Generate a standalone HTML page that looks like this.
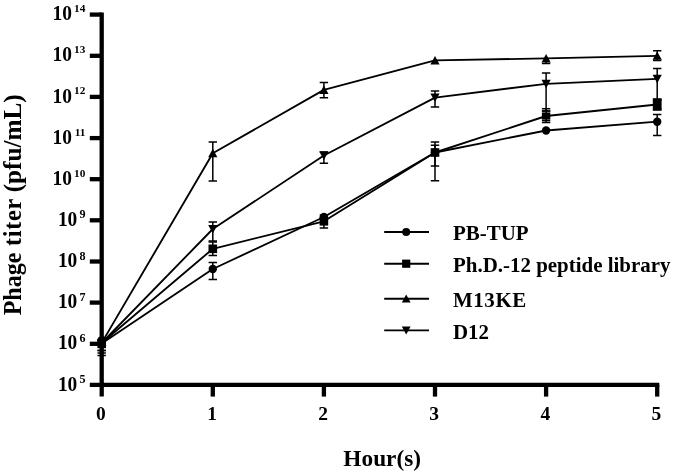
<!DOCTYPE html><html><head><meta charset="utf-8"><title>Phage titer</title><style>html,body{margin:0;padding:0;background:#fff}</style></head><body><svg width="675" height="475" viewBox="0 0 675 475" style="display:block">
<rect width="675" height="475" fill="#fff"/>
<g font-family="'Liberation Serif', 'Times New Roman', serif" font-weight="bold" fill="#000">
<g stroke="#000" stroke-width="4.3" fill="none" stroke-linecap="butt">
<path d="M101.7 12.4 V396.6"/>
<path d="M89.8 384.9 H659.3"/>
<path d="M89.8 343.8 H101.7"/>
<path d="M89.8 302.6 H101.7"/>
<path d="M89.8 261.5 H101.7"/>
<path d="M89.8 220.3 H101.7"/>
<path d="M89.8 179.2 H101.7"/>
<path d="M89.8 138.1 H101.7"/>
<path d="M89.8 96.9 H101.7"/>
<path d="M89.8 55.8 H101.7"/>
<path d="M89.8 14.6 H101.7"/>
<path d="M212.8 384.9 V396.6"/>
<path d="M323.9 384.9 V396.6"/>
<path d="M435.0 384.9 V396.6"/>
<path d="M546.1 384.9 V396.6"/>
<path d="M657.2 384.9 V396.6"/>
</g>
<text x="57.9" y="390.5" font-size="21" textLength="19.4" lengthAdjust="spacingAndGlyphs">10</text><text x="85.6" y="382.9" font-size="12.1" text-anchor="end">5</text>
<text x="57.9" y="349.4" font-size="21" textLength="19.4" lengthAdjust="spacingAndGlyphs">10</text><text x="85.6" y="341.8" font-size="12.1" text-anchor="end">6</text>
<text x="57.9" y="308.2" font-size="21" textLength="19.4" lengthAdjust="spacingAndGlyphs">10</text><text x="85.6" y="300.6" font-size="12.1" text-anchor="end">7</text>
<text x="57.9" y="267.1" font-size="21" textLength="19.4" lengthAdjust="spacingAndGlyphs">10</text><text x="85.6" y="259.5" font-size="12.1" text-anchor="end">8</text>
<text x="57.9" y="225.9" font-size="21" textLength="19.4" lengthAdjust="spacingAndGlyphs">10</text><text x="85.6" y="218.3" font-size="12.1" text-anchor="end">9</text>
<text x="52.6" y="184.8" font-size="21" textLength="19.4" lengthAdjust="spacingAndGlyphs">10</text><text x="85.4" y="176.6" font-size="11.3" text-anchor="end">10</text>
<text x="52.6" y="143.7" font-size="21" textLength="19.4" lengthAdjust="spacingAndGlyphs">10</text><text x="85.4" y="135.5" font-size="11.3" text-anchor="end">11</text>
<text x="52.6" y="102.5" font-size="21" textLength="19.4" lengthAdjust="spacingAndGlyphs">10</text><text x="85.4" y="94.3" font-size="11.3" text-anchor="end">12</text>
<text x="52.6" y="61.4" font-size="21" textLength="19.4" lengthAdjust="spacingAndGlyphs">10</text><text x="85.4" y="53.2" font-size="11.3" text-anchor="end">13</text>
<text x="52.6" y="20.2" font-size="21" textLength="19.4" lengthAdjust="spacingAndGlyphs">10</text><text x="85.4" y="12.0" font-size="11.3" text-anchor="end">14</text>
<text x="100.9" y="420.1" font-size="19.5" text-anchor="middle">0</text>
<text x="212.0" y="420.1" font-size="19.5" text-anchor="middle">1</text>
<text x="323.1" y="420.1" font-size="19.5" text-anchor="middle">2</text>
<text x="434.2" y="420.1" font-size="19.5" text-anchor="middle">3</text>
<text x="545.3" y="420.1" font-size="19.5" text-anchor="middle">4</text>
<text x="656.4" y="420.1" font-size="19.5" text-anchor="middle">5</text>
<text x="382.2" y="465.5" font-size="23.3" text-anchor="middle">Hour(s)</text>
<text transform="translate(20.5,315.3) rotate(-90)" font-size="24.3" textLength="62.7" lengthAdjust="spacingAndGlyphs">Phage</text>
<text transform="translate(20.5,246.1) rotate(-90)" font-size="24.3" textLength="47.4" lengthAdjust="spacing">titer</text>
<text transform="translate(20.5,192.3) rotate(-90)" font-size="24.3" textLength="97.9" lengthAdjust="spacingAndGlyphs">(pfu/mL)</text>
<polyline points="101.7,343.4 212.8,269.0 323.9,217.0 435.0,152.5 546.1,130.5 657.2,121.7" fill="none" stroke="#000" stroke-width="1.85" stroke-linejoin="round"/>
<path d="M101.7 340.0 V350.6 M97.5 340.0 H105.9 M97.5 350.6 H105.9" stroke="#000" stroke-width="1.5" fill="none"/>
<circle cx="101.7" cy="340.3" r="4.20"/>
<path d="M212.8 262.6 V279.5 M208.6 262.6 H217.0 M208.6 279.5 H217.0" stroke="#000" stroke-width="1.5" fill="none"/>
<circle cx="212.8" cy="269.0" r="4.20"/>
<path d="M323.9 215.0 V219.0 M319.7 215.0 H328.1 M319.7 219.0 H328.1" stroke="#000" stroke-width="1.5" fill="none"/>
<circle cx="323.9" cy="217.0" r="4.20"/>
<path d="M435.0 145.3 V165.9 M430.8 145.3 H439.2 M430.8 165.9 H439.2" stroke="#000" stroke-width="1.5" fill="none"/>
<circle cx="435.0" cy="152.5" r="4.20"/>
<circle cx="546.1" cy="130.5" r="4.20"/>
<path d="M657.2 114.6 V135.5 M653.0 114.6 H661.4 M653.0 135.5 H661.4" stroke="#000" stroke-width="1.5" fill="none"/>
<circle cx="657.2" cy="121.7" r="4.20"/>
<polyline points="101.7,343.0 212.8,248.8 323.9,221.3 435.0,152.5 546.1,116.0 657.2,104.5" fill="none" stroke="#000" stroke-width="1.85" stroke-linejoin="round"/>
<path d="M101.7 340.0 V353.0 M97.5 340.0 H105.9 M97.5 353.0 H105.9" stroke="#000" stroke-width="1.5" fill="none"/>
<rect x="97.4" y="339.6" width="8.6" height="8.6"/>
<path d="M212.8 242.0 V255.5 M208.6 242.0 H217.0 M208.6 255.5 H217.0" stroke="#000" stroke-width="1.5" fill="none"/>
<rect x="208.5" y="244.5" width="8.6" height="8.6"/>
<path d="M323.9 217.0 V228.0 M319.7 217.0 H328.1 M319.7 228.0 H328.1" stroke="#000" stroke-width="1.5" fill="none"/>
<rect x="319.6" y="217.0" width="8.6" height="8.6"/>
<path d="M435.0 142.0 V180.7 M430.8 142.0 H439.2 M430.8 180.7 H439.2" stroke="#000" stroke-width="1.5" fill="none"/>
<rect x="430.7" y="148.2" width="8.6" height="8.6"/>
<path d="M546.1 108.7 V122.6 M541.9 108.7 H550.3 M541.9 110.9 H550.3 M541.9 120.5 H550.3 M541.9 122.6 H550.3" stroke="#000" stroke-width="1.5" fill="none"/>
<rect x="541.9" y="112.4" width="8.4" height="7.2"/>
<path d="M657.2 100.0 V109.0 M653.0 100.0 H661.4 M653.0 109.0 H661.4" stroke="#000" stroke-width="1.5" fill="none"/>
<rect x="652.8" y="98.2" width="8.8" height="12.6"/>
<polyline points="101.7,342.9 212.8,153.2 323.9,89.9 435.0,60.4 546.1,58.4 657.2,55.8" fill="none" stroke="#000" stroke-width="1.85" stroke-linejoin="round"/>
<path d="M101.7 340.0 V355.4 M97.5 340.0 H105.9 M97.5 355.4 H105.9" stroke="#000" stroke-width="1.5" fill="none"/>
<polygon points="97.1,345.5 106.3,345.5 101.7,337.1"/>
<path d="M212.8 142.0 V181.0 M208.6 142.0 H217.0 M208.6 181.0 H217.0" stroke="#000" stroke-width="1.5" fill="none"/>
<polygon points="208.2,157.2 217.4,157.2 212.8,148.8"/>
<path d="M323.9 82.5 V97.8 M319.7 82.5 H328.1 M319.7 97.8 H328.1" stroke="#000" stroke-width="1.5" fill="none"/>
<polygon points="319.3,93.9 328.5,93.9 323.9,85.5"/>
<polygon points="430.4,64.4 439.6,64.4 435.0,56.0"/>
<path d="M546.1 58.4 V63.4 M541.9 63.4 H550.3" stroke="#000" stroke-width="1.5" fill="none"/>
<polygon points="541.5,62.4 550.7,62.4 546.1,54.0"/>
<path d="M657.2 50.8 V60.5 M653.0 50.8 H661.4 M653.0 60.5 H661.4" stroke="#000" stroke-width="1.5" fill="none"/>
<polygon points="652.6,59.8 661.8,59.8 657.2,51.4"/>
<polyline points="101.7,343.0 212.8,229.0 323.9,155.5 435.0,97.6 546.1,83.8 657.2,78.8" fill="none" stroke="#000" stroke-width="1.85" stroke-linejoin="round"/>
<path d="M101.7 340.0 V350.6 M97.5 340.0 H105.9 M97.5 350.6 H105.9" stroke="#000" stroke-width="1.5" fill="none"/>
<polygon points="97.1,340.0 106.3,340.0 101.7,348.4"/>
<path d="M212.8 222.0 V240.9 M208.6 222.0 H217.0 M208.6 240.9 H217.0" stroke="#000" stroke-width="1.5" fill="none"/>
<polygon points="208.2,225.0 217.4,225.0 212.8,233.4"/>
<path d="M323.9 152.0 V163.3 M319.7 152.0 H328.1 M319.7 163.3 H328.1" stroke="#000" stroke-width="1.5" fill="none"/>
<polygon points="319.3,151.5 328.5,151.5 323.9,159.9"/>
<path d="M435.0 91.0 V107.0 M430.8 91.0 H439.2 M430.8 107.0 H439.2" stroke="#000" stroke-width="1.5" fill="none"/>
<polygon points="430.4,93.6 439.6,93.6 435.0,102.0"/>
<path d="M546.1 73.0 V111.0 M541.9 73.0 H550.3 M541.9 111.0 H550.3" stroke="#000" stroke-width="1.5" fill="none"/>
<polygon points="541.5,79.8 550.7,79.8 546.1,88.2"/>
<path d="M657.2 68.5 V100.0 M653.0 68.5 H661.4 M653.0 100.0 H661.4" stroke="#000" stroke-width="1.5" fill="none"/>
<polygon points="652.6,74.8 661.8,74.8 657.2,83.2"/>
<path d="M384.2 232 H429" stroke="#000" stroke-width="1.85"/>
<circle cx="406.2" cy="232.0" r="3.99"/>
<text x="453" y="240.4" font-size="20.95">PB-TUP</text>
<path d="M384.2 263.7 H429" stroke="#000" stroke-width="1.85"/>
<rect x="402.1" y="259.6" width="8.2" height="8.2"/>
<text x="453" y="272.1" font-size="20.95">Ph.D.-12 peptide library</text>
<path d="M384.2 298.7 H429" stroke="#000" stroke-width="1.85"/>
<polygon points="401.8,302.5 410.6,302.5 406.2,294.5"/>
<text x="453" y="307.1" font-size="20.95" textLength="73.2" lengthAdjust="spacing">M13KE</text>
<path d="M384.2 330.3 H429" stroke="#000" stroke-width="1.85"/>
<polygon points="401.8,326.5 410.6,326.5 406.2,334.5"/>
<text x="453" y="338.7" font-size="20.95">D12</text>
</g></svg></body></html>
